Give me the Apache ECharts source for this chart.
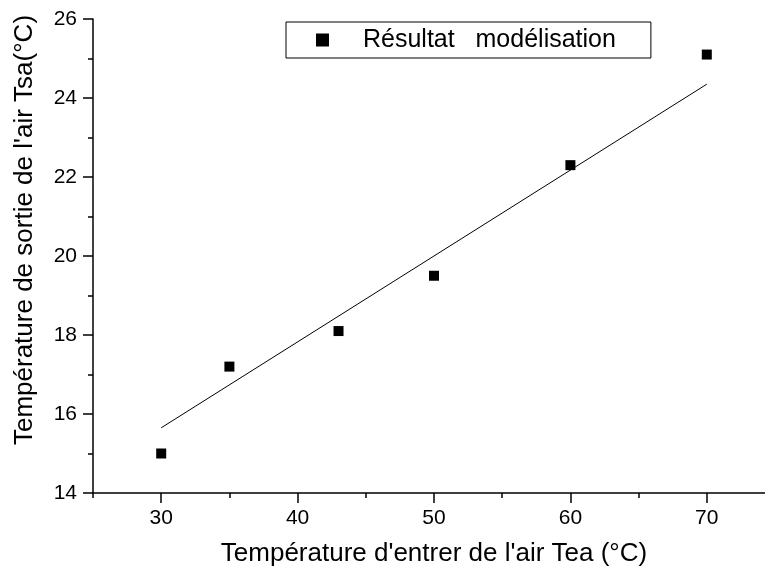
<!DOCTYPE html>
<html>
<head>
<meta charset="utf-8">
<script src="https://cdn.jsdelivr.net/npm/echarts@6/dist/echarts.min.js"></script>
<style>html,body{margin:0;padding:0;background:#fff}#c{width:765px;height:569px}</style>
</head>
<body>
<div id="c"></div>
<script>
// Data
const tea = [30, 35, 43, 50, 60, 70];            // Température d'entrer de l'air (°C)
const tsa = [15.0, 17.2, 18.1, 19.5, 22.3, 25.1]; // Résultat modélisation (°C)
const fitX = [30, 70];                            // fitted line ends
const fitY = [15.65, 24.35];
const seriesName = 'Résultat   modélisation';
const xName = "Température d'entrer de l'air Tea (°C)";
const yName = "Température de sortie de l'air Tsa(°C)";

const FONT = 'Liberation Sans, Arial, sans-serif';
const chart = echarts.init(document.getElementById('c'), null, {renderer: 'canvas'});
chart.setOption({
  backgroundColor: '#fff',
  animation: false,
  grid: [
    {left: 93, right: -10, top: 19, bottom: 76, outerBoundsMode: 'none', containLabel: false},
    {left: 93 + 5 * (682 / 50), right: -10, top: 19, bottom: 76, outerBoundsMode: 'none', containLabel: false}
  ],
  legend: {
    data: [seriesName],
    left: 286, top: 22,
    orient: 'horizontal',
    icon: 'rect',
    itemWidth: 13, itemHeight: 13,
    padding: [5, 35, 5, 30],
    borderColor: '#000', borderWidth: 1,
    itemStyle: {opacity: 1},
    textStyle: {fontFamily: FONT, fontSize: 25, color: '#000', padding: [0, 0, 0, 29], lineHeight: 26}
  },
  xAxis: [
    {
      type: 'value', gridIndex: 0, min: 25, max: 75, interval: 5,
      name: xName, nameLocation: 'middle', nameGap: 48,
      nameTextStyle: {fontFamily: FONT, fontSize: 26, color: '#000'},
      axisLine: {show: true, lineStyle: {color: '#000', width: 1.5}},
      axisTick: {show: true, inside: false, length: 5, lineStyle: {color: '#000', width: 1.5}},
      axisLabel: {show: false},
      splitLine: {show: false}
    },
    {
      type: 'value', gridIndex: 1, min: 30, max: 75, interval: 10,
      axisLine: {show: false},
      axisTick: {show: true, inside: false, length: 10, lineStyle: {color: '#000', width: 1.5}},
      axisLabel: {show: true, margin: 15, fontFamily: FONT, fontSize: 21, color: '#000',
        formatter: v => (v % 10 === 0 ? String(v) : '')},
      splitLine: {show: false}
    }
  ],
  yAxis: [
    {
      type: 'value', gridIndex: 0, min: 14, max: 26, interval: 2,
      name: yName, nameLocation: 'middle', nameGap: 55,
      nameTextStyle: {fontFamily: FONT, fontSize: 26, color: '#000', padding: [0, 0, 0, 52]},
      axisLine: {show: true, lineStyle: {color: '#000', width: 1.5}},
      axisTick: {show: true, inside: false, length: 10, lineStyle: {color: '#000', width: 1.5}},
      minorTick: {show: true, splitNumber: 2, length: 5, lineStyle: {color: '#000', width: 1.5}},
      axisLabel: {show: true, margin: 16, fontFamily: FONT, fontSize: 21, color: '#000'},
      splitLine: {show: false},
      minorSplitLine: {show: false}
    },
    {
      type: 'value', gridIndex: 1, min: 14, max: 26, show: false
    }
  ],
  series: [
    {
      name: seriesName, type: 'scatter', xAxisIndex: 0, yAxisIndex: 0,
      symbol: 'rect', symbolSize: 10,
      itemStyle: {color: '#000', opacity: 1},
      data: tea.map((x, i) => [x, tsa[i]])
    },
    {
      name: 'fit', type: 'line', xAxisIndex: 0, yAxisIndex: 0,
      showSymbol: false, symbol: 'none',
      lineStyle: {color: '#000', width: 1},
      data: fitX.map((x, i) => [x, fitY[i]])
    }
  ]
});
</script>
</body>
</html>
